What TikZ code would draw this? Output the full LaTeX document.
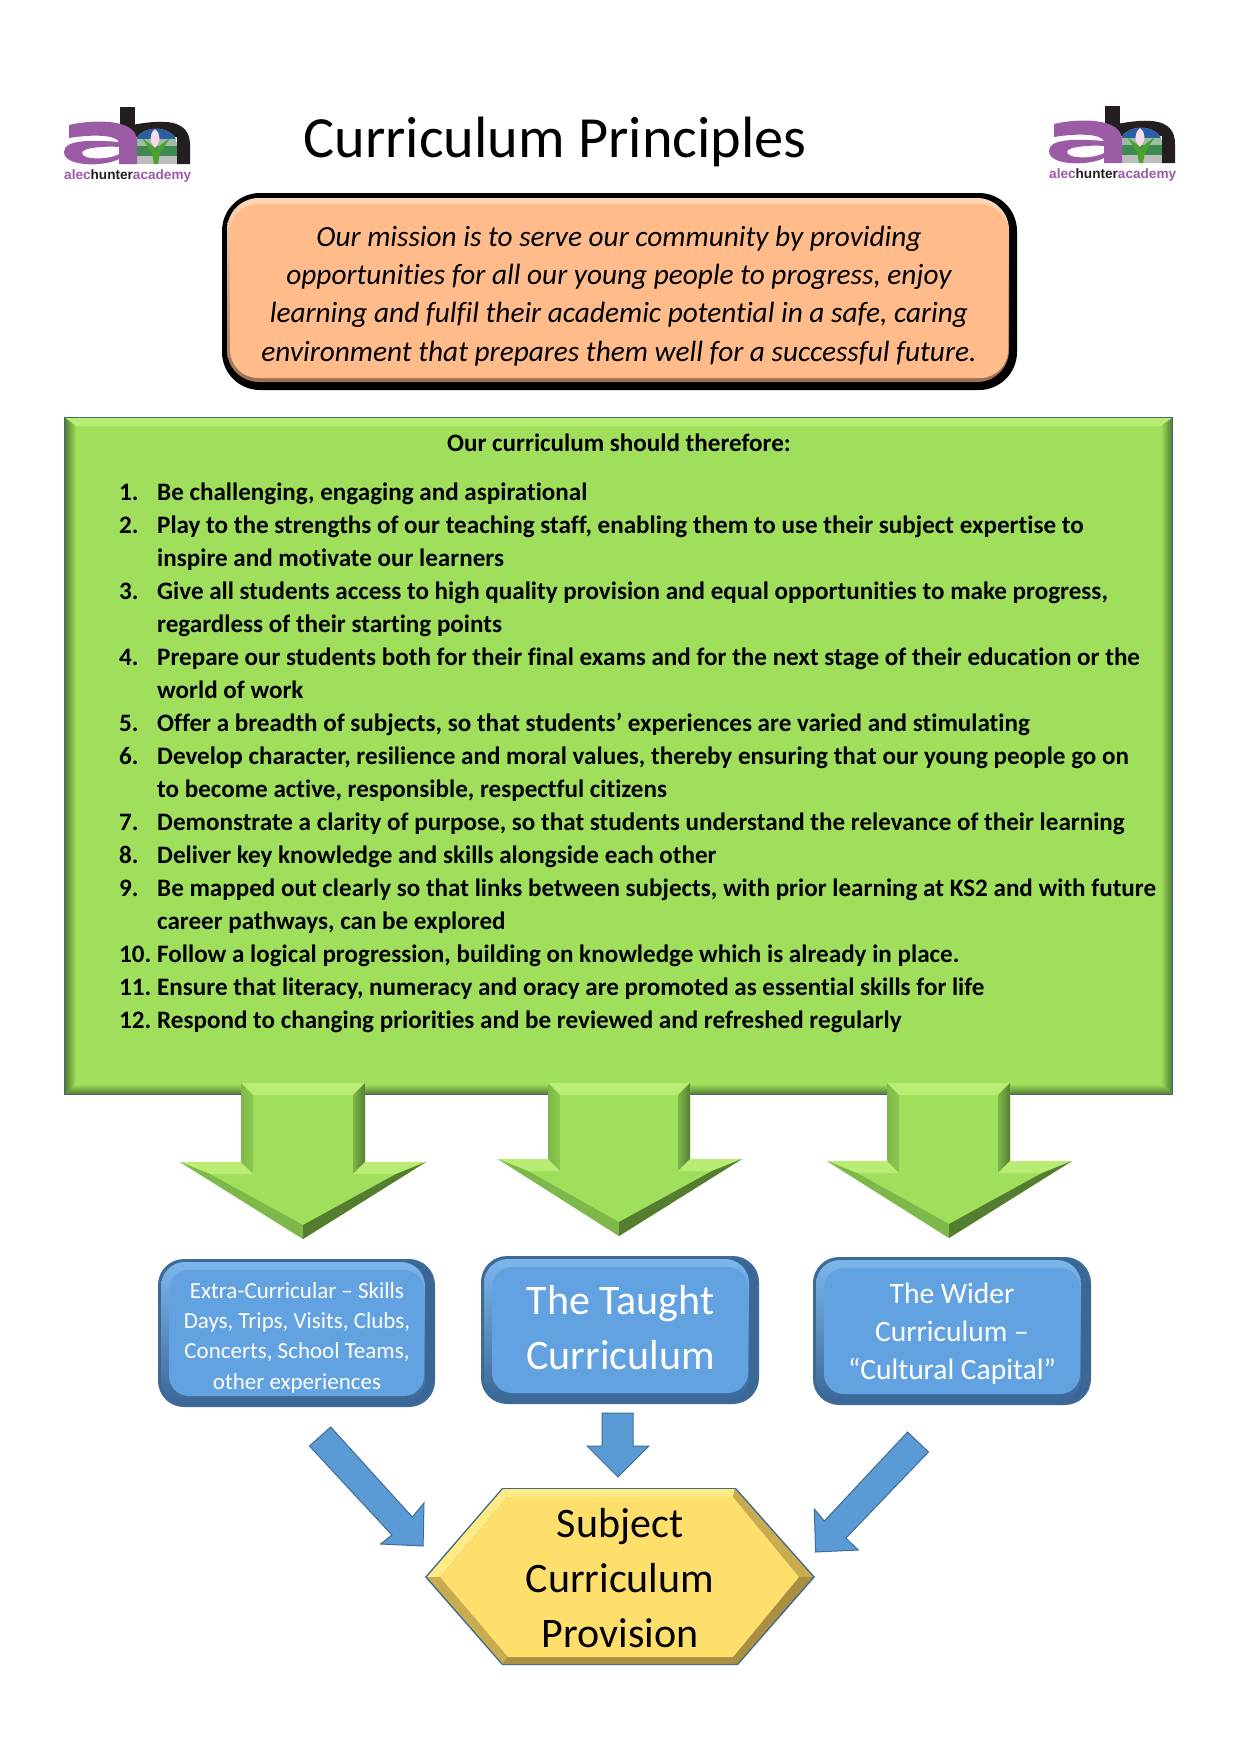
\documentclass[tikz,border=0pt]{standalone}
\usepackage{fontspec}
\setmainfont{Carlito}[Ligatures=NoCommon]
\definecolor{gmain}{HTML}{A0DF5C}
\definecolor{glight}{HTML}{B8EC72}
\definecolor{gleft}{HTML}{8CC850}
\definecolor{gdark}{HTML}{557D30}
\definecolor{gmid}{HTML}{7FB84A}
\definecolor{gedge}{HTML}{3F6A8C}
\definecolor{bmain}{HTML}{62A2E0}
\definecolor{blight}{HTML}{7DB6EC}
\definecolor{bmid}{HTML}{558FC8}
\definecolor{bdark}{HTML}{3A6796}
\definecolor{bedge}{HTML}{3E6C9A}
\definecolor{barrow}{HTML}{5B9BD5}
\definecolor{ymain}{HTML}{FFDF6B}
\definecolor{ylight}{HTML}{FFEB85}
\definecolor{ymid}{HTML}{C9AB50}
\definecolor{ydark}{HTML}{A98F3F}
\definecolor{omain}{HTML}{FFBC8A}
\definecolor{olight}{HTML}{FFD8B8}
\definecolor{odark}{HTML}{9A7050}
\definecolor{lpurple}{HTML}{9B5BA5}
\definecolor{lgrey}{HTML}{BDBDBD}
\definecolor{lsage}{HTML}{9DBBA6}
\definecolor{lgreen}{HTML}{3F8A50}
\definecolor{lblue}{HTML}{2A5FA8}
\definecolor{lleaf}{HTML}{4FA12E}
\definecolor{lpink}{HTML}{F5DCE6}
\definecolor{lblack}{HTML}{231F20}
\tikzset{
  x=1pt,y=-1pt,
  bodyline/.style={anchor=base west,inner sep=0pt,font=\fontsize{25.1}{30}\selectfont\bfseries,text=black},
  whitelabel/.style={anchor=base,inner sep=0pt,text=white},
  blacklabel/.style={anchor=base,inner sep=0pt,text=black},
  missionline/.style={anchor=base,inner sep=0pt,text=black,font=\fontsize{29.3}{30}\selectfont\itshape},
}
\newcommand{\roundbevel}[4]{% x1 y1 x2 y2
  \fill[bedge,rounded corners=26pt] (#1,#2) rectangle (#3,#4);
  \fill[bdark,rounded corners=25pt] (#1+2,#2+2) rectangle (#3-2,#4-2);
  \shade[top color=blight,middle color=bmid,bottom color=bdark,rounded corners=24pt] (#1+3,#2+3) rectangle (#3-10,#4-3);
  \fill[bmain,rounded corners=20pt] (#1+11,#2+11) rectangle (#3-11,#4-11);
}
\newcommand{\greenarrow}[8]{%
  \fill[gmain] (#1,#6) -- (#2,#6) -- (#2,#7) -- (#4,#7) -- (#5,#8) -- (#3,#7) -- (#1,#7) -- cycle;
  \fill[glight] (#1,#6) -- (#2,#6) -- (#2-12,#6+12) -- (#1+12,#6+12) -- cycle;
  \shade[left color=gmid,right color=gleft] (#1,#6) -- (#1+12,#6+12) -- (#1+12,#7+12) -- (#1,#7) -- cycle;
  \shade[left color=gmid,right color=gdark] (#2,#6) -- (#2-12,#6+12) -- (#2-12,#7+12) -- (#2,#7) -- cycle;
  \fill[glight] (#3,#7) -- (#1,#7) -- (#1+12,#7+12) -- (#3+30,#7+12) -- cycle;
  \fill[glight] (#4,#7) -- (#2,#7) -- (#2-12,#7+12) -- (#4-30,#7+12) -- cycle;
  \fill[gmid] (#3,#7) -- (#3+30,#7+12) -- (#5,#8-14) -- (#5,#8) -- cycle;
  \fill[gdark] (#4,#7) -- (#4-30,#7+12) -- (#5,#8-14) -- (#5,#8) -- cycle;
}
\newcommand{\logo}[2]{%
  \begin{scope}[shift={(#1,#2)}]
    \fill[lblack] (56,0) rectangle (71,30);
    \fill[lblack] (68,18) .. controls (100,12) and (126,12) .. (126,38) -- (126,57) -- (113,57) -- (113,30) -- (71,30) -- cycle;
    \begin{scope}
      \clip (71,57) -- (71,36) .. controls (74,17) and (110,17) .. (113,36) -- (113,57) -- cycle;
      \fill[lgrey] (71,17) rectangle (113,57);
      \fill[lblue] (71,17) rectangle (113,32);
      \fill[lsage] (71,32) rectangle (113,39);
      \fill[lgreen] (71,39) rectangle (113,49);
    \end{scope}
    \fill[lleaf] (90,57) -- (88,46) -- (78,31) -- (90,40) -- (92,44) -- (94,40) -- (106,31) -- (96,46) -- (94,57) -- cycle;
    \fill[lpink] (91,41) .. controls (85,35) and (85,27) .. (91,22) .. controls (97,27) and (97,35) .. (91,41) -- cycle;
    \fill[lpurple,even odd rule] (5,18) .. controls (25,13) and (73,10) .. (73,34) -- (73,57) -- (55,57) -- (55,52) .. controls (40,60) and (0,60) .. (0,45) .. controls (0,32) and (30,33) .. (55,35) .. controls (52,28) and (30,27) .. (5,31) -- cycle
      (18,46) .. controls (18,40) and (45,39) .. (55,40) -- (55,47) .. controls (45,53) and (18,53) .. (18,46) -- cycle;
  \end{scope}
}
\newcommand{\logotext}[3]{\node[anchor=base west,inner sep=0pt,font=\fontsize{13.6}{16}\selectfont\fontspec{Liberation Sans}\bfseries] (#3) at (#1,#2) {\textcolor{lpurple}{alec}\textcolor{lblack}{hunter}\textcolor{lpurple}{academy}};}
\newcommand{\pline}[3]{%
  \node[bodyline] (n#1) at (119,{500+33*#1}) {#2};
  \node[bodyline] (t#1) at (157,{500+33*#1}) {#3};
}
\newcommand{\contline}[2]{\node[bodyline] (c#1) at (157,{500+33*#1}) {#2};}
\begin{document}
\begin{tikzpicture}
\useasboundingbox (0,0) rectangle (1240,1754);
\fill[white] (0,0) rectangle (1240,1754);
\logo{64}{107}
\logotext{64}{179}{logotextA}
\logo{1049}{106}
\logotext{1049}{178}{logotextB}
\node[blacklabel,font=\fontsize{58.3}{60}\selectfont] (title) at (555,157) {Curriculum Principles};
% mission box
\fill[black,rounded corners=38pt] (222,193) rectangle (1017,390);
\shade[top color=olight,middle color=omain,bottom color=odark,rounded corners=32pt] (227,198) rectangle (1009,382);
\fill[omain,rounded corners=28pt] (230,204) rectangle (1008,378);
\node[missionline] (m1) at (619,246) {Our mission is to serve our community by providing};
\node[missionline] (m2) at (619,284) {opportunities for all our young people to progress, enjoy};
\node[missionline] (m3) at (619,322) {learning and fulfil their academic potential in a safe, caring};
\node[missionline] (m4) at (619,361) {environment that prepares them well for a successful future.};
% green panel
\fill[gedge] (64,417) rectangle (1173,1095);
\fill[gmain] (65,418) rectangle (1172,1094);
\fill[glight] (65,418) -- (1172,418) -- (1161,426) -- (76,426) -- cycle;
\shade[left color=gdark,right color=gmain] (65,418) -- (76,426) -- (76,1084) -- (65,1094) -- cycle;
\shade[top color=gmain,bottom color=gdark] (65,1094) -- (76,1084) -- (1161,1084) -- (1172,1094) -- cycle;
\shade[left color=gmain,right color=gdark] (1172,418) -- (1161,426) -- (1161,1084) -- (1172,1094) -- cycle;
\node[bodyline,anchor=base] (head) at (619,451.5) {Our curriculum should therefore:};
\pline{0}{1.}{Be challenging, engaging and aspirational}
\pline{1}{2.}{Play to the strengths of our teaching staff, enabling them to use their subject expertise to}
\contline{2}{inspire and motivate our learners}
\pline{3}{3.}{Give all students access to high quality provision and equal opportunities to make progress,}
\contline{4}{regardless of their starting points}
\pline{5}{4.}{Prepare our students both for their final exams and for the next stage of their education or the}
\contline{6}{world of work}
\pline{7}{5.}{Offer a breadth of subjects, so that students’ experiences are varied and stimulating}
\pline{8}{6.}{Develop character, resilience and moral values, thereby ensuring that our young people go on}
\contline{9}{to become active, responsible, respectful citizens}
\pline{10}{7.}{Demonstrate a clarity of purpose, so that students understand the relevance of their learning}
\pline{11}{8.}{Deliver key knowledge and skills alongside each other}
\pline{12}{9.}{Be mapped out clearly so that links between subjects, with prior learning at KS2 and with future}
\contline{13}{career pathways, can be explored}
\pline{14}{10.}{Follow a logical progression, building on knowledge which is already in place.}
\pline{15}{11.}{Ensure that literacy, numeracy and oracy are promoted as essential skills for life}
\pline{16}{12.}{Respond to changing priorities and be reviewed and refreshed regularly}
\greenarrow{241}{365}{180}{426}{303}{1083}{1162}{1239}
\greenarrow{548}{690}{498}{742}{619}{1083}{1159}{1236}
\greenarrow{887}{1010}{827}{1072}{949}{1083}{1161}{1238}
\roundbevel{158}{1259}{435}{1407}
\roundbevel{481}{1256}{759}{1404}
\roundbevel{813}{1257}{1091}{1405}
\node[whitelabel,font=\fontsize{23}{26}\selectfont] (e1) at (297,1298) {Extra-Curricular – Skills};
\node[whitelabel,font=\fontsize{23}{26}\selectfont] (e2) at (297,1328) {Days, Trips, Visits, Clubs,};
\node[whitelabel,font=\fontsize{23}{26}\selectfont] (e3) at (297,1358) {Concerts, School Teams,};
\node[whitelabel,font=\fontsize{23}{26}\selectfont] (e4) at (297,1389) {other experiences};
\node[whitelabel,font=\fontsize{42}{44}\selectfont] (k1) at (620.5,1314) {The Taught};
\node[whitelabel,font=\fontsize{42}{44}\selectfont] (k2) at (620.5,1369) {Curriculum};
\node[whitelabel,font=\fontsize{29.5}{30}\selectfont] (w1) at (952,1303) {The Wider};
\node[whitelabel,font=\fontsize{29.5}{30}\selectfont] (w2) at (952,1341) {Curriculum –};
\node[whitelabel,font=\fontsize{29.5}{30}\selectfont] (w3) at (952,1379) {“Cultural Capital”};
% blue arrows
\draw[bedge,fill=barrow,line width=1pt] (602,1413) -- (633,1413) -- (633,1446) -- (649,1446) -- (618,1477) -- (587,1446) -- (602,1446) -- cycle;
\draw[bedge,fill=barrow,line width=1pt] (330.7,1427) -- (412.3,1517) -- (424,1503) -- (423.1,1546) -- (380.6,1544) -- (391.9,1535) -- (309.5,1446) -- cycle;
\draw[bedge,fill=barrow,line width=1pt] (907.6,1432) -- (928.4,1452) -- (846,1538) -- (858.1,1550) -- (815.6,1552) -- (814.3,1509) -- (824.3,1521) -- cycle;
% hexagon
\fill[gedge] (502,1488) -- (736,1488) -- (815,1577) -- (738,1665) -- (502,1665) -- (425,1577) -- cycle;
\fill[ylight] (503,1489) -- (735,1489) -- (733,1497) -- (508,1497) -- cycle;
\fill[ylight] (503,1489) -- (427,1577) -- (440,1577) -- (508,1497) -- cycle;
\fill[ymid] (427,1577) -- (503,1664) -- (508,1657) -- (440,1577) -- cycle;
\fill[ydark] (503,1664) -- (737,1664) -- (733,1657) -- (508,1657) -- cycle;
\fill[ymid] (735,1489) -- (813,1577) -- (799,1577) -- (733,1497) -- cycle;
\fill[ydark] (813,1577) -- (737,1664) -- (733,1657) -- (799,1577) -- cycle;
\fill[ymain] (508,1497) -- (733,1497) -- (799,1577) -- (733,1657) -- (508,1657) -- (440,1577) -- cycle;
\node[blacklabel,font=\fontsize{42}{44}\selectfont] (s1) at (620,1537) {Subject};
\node[blacklabel,font=\fontsize{42}{44}\selectfont] (s2) at (620,1592) {Curriculum};
\node[blacklabel,font=\fontsize{42}{44}\selectfont] (s3) at (620,1647) {Provision};
\end{tikzpicture}
\end{document}
